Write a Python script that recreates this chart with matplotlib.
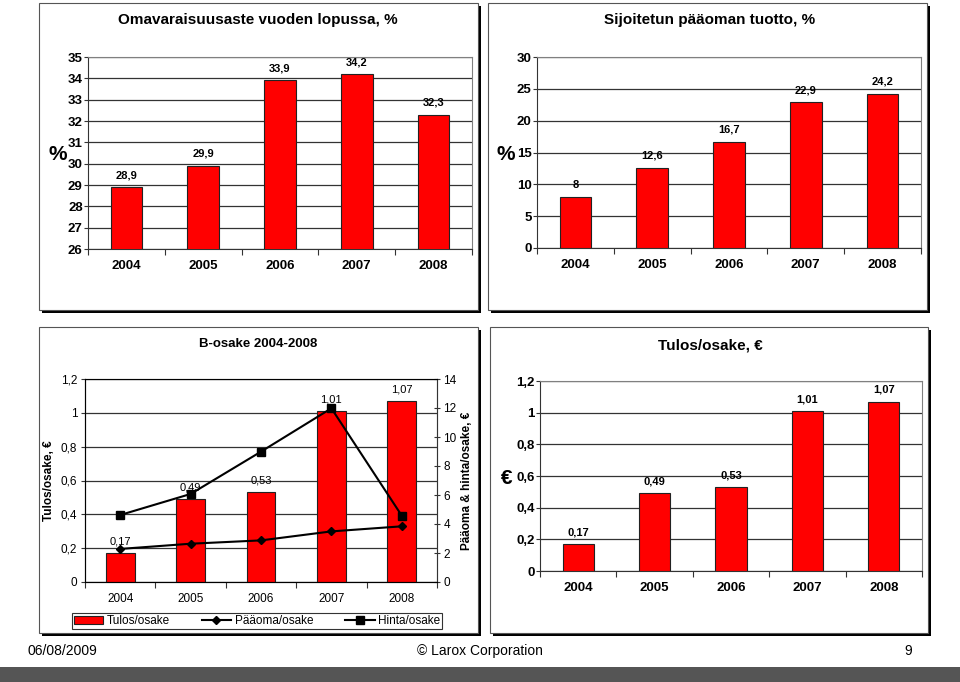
import matplotlib.pyplot as plt
from matplotlib.patches import Rectangle, Patch
from matplotlib.lines import Line2D

plt.rcParams['font.family'] = ['Liberation Sans', 'DejaVu Sans']

years = ['2004', '2005', '2006', '2007', '2008']
omavaraisuus = [28.9, 29.9, 33.9, 34.2, 32.3]
sijoitettu = [8, 12.6, 16.7, 22.9, 24.2]
tulos = [0.17, 0.49, 0.53, 1.01, 1.07]
paaoma = [2.28, 2.64, 2.87, 3.49, 3.84]
hinta = [4.62, 6.07, 8.99, 11.98, 4.57]

W, H = 960, 682
fig = plt.figure(figsize=(W / 100, H / 100), dpi=100)


def rect(l, t, r, b):
    return [l / W, 1 - b / H, (r - l) / W, (b - t) / H]


def frame(l, t, r, b):
    # black drop shadow then white box
    fig.patches.append(Rectangle((l / W + 3 / W, 1 - b / H - 3 / H), (r - l) / W, (b - t) / H,
                                 transform=fig.transFigure, facecolor='black', edgecolor='none', zorder=0))
    fig.patches.append(Rectangle((l / W, 1 - b / H), (r - l) / W, (b - t) / H,
                                 transform=fig.transFigure, facecolor='white', edgecolor='#555555',
                                 lw=0.8, zorder=0.5))


def fmt(v):
    return ('%g' % v).replace('.', ',')


def bar_axes(pos, values, ylim, yticks, bold=True, labelsize=9.5):
    ax = fig.add_axes(pos)
    ax.set_zorder(2)
    ax.patch.set_alpha(0)
    x = range(len(years))
    ax.bar(x, values, width=0.41, color='#ff0000', edgecolor='#222222', lw=0.8, zorder=3)
    ax.set_xlim(-0.5, 4.5)
    ax.set_ylim(*ylim)
    ax.set_yticks(yticks)
    ax.set_yticklabels([fmt(t) for t in yticks], fontsize=labelsize,
                       fontweight='bold' if bold else 'normal')
    ax.set_xticks([i - 0.5 for i in range(6)])
    ax.set_xticklabels([])
    ax.set_xticks(list(x), minor=True)
    ax.set_xticklabels(years, minor=True, fontsize=labelsize,
                       fontweight='bold' if bold else 'normal')
    ax.tick_params(axis='x', which='major', length=4, direction='out', color='#333333')
    ax.tick_params(axis='x', which='minor', length=0, pad=8)
    ax.tick_params(axis='y', length=3, direction='out', color='#333333', pad=0.8)
    ax.yaxis.grid(True, color='#333333', lw=0.9, zorder=0)
    ax.set_axisbelow(True)
    for s in ['top', 'right']:
        ax.spines[s].set_color('#808080')
    for s in ['left', 'bottom']:
        ax.spines[s].set_color('#333333')
    for i, v in enumerate(values):
        ax.annotate(fmt(v), (i, v), xytext=(0, 5), textcoords='offset points',
                    ha='center', va='bottom', fontsize=8,
                    fontweight='bold' if bold else 'normal')
    return ax


# top-left
frame(39, 3, 478, 310)
ax1 = bar_axes(rect(88, 57, 472, 249), omavaraisuus, (26, 35), list(range(26, 36)))
fig.text(258 / W, 1 - 20 / H, 'Omavaraisuusaste vuoden lopussa, %', ha='center', va='center',
         fontsize=11, fontweight='bold')
fig.text(58 / W, 1 - 155 / H, '%', ha='center', va='center', fontsize=15, fontweight='bold')

# top-right
frame(488, 3, 927, 310)
ax2 = bar_axes(rect(537, 57, 921, 248), sijoitettu, (0, 30), list(range(0, 31, 5)))
fig.text(710 / W, 1 - 20 / H, 'Sijoitetun pääoman tuotto, %', ha='center', va='center',
         fontsize=11, fontweight='bold')
fig.text(506 / W, 1 - 155 / H, '%', ha='center', va='center', fontsize=15, fontweight='bold')

# bottom-left
frame(39, 327, 478, 633)
ax3 = bar_axes(rect(85, 379, 437, 582), tulos, (0, 1.2), [0, 0.2, 0.4, 0.6, 0.8, 1, 1.2],
               bold=False, labelsize=8.5)
ax3.tick_params(axis='y', pad=2.5)
ax3.set_ylabel('Tulos/osake, €', fontsize=8.5, fontweight='bold', labelpad=4)
ax3b = ax3.twinx()
ax3b.set_zorder(3)
ax3b.plot(range(5), paaoma, color='black', marker='D', markersize=4, lw=1.5, zorder=4)
ax3b.plot(range(5), hinta, color='black', marker='s', markersize=6, lw=1.5, zorder=4)
ax3b.set_ylim(0, 14)
ax3b.set_yticks(range(0, 15, 2))
ax3b.tick_params(axis='y', length=4, direction='inout', labelsize=8.5, pad=2.5, color='#333333')
ax3b.set_ylabel('Pääoma & hinta/osake, €', fontsize=8.5, fontweight='bold', labelpad=3)
ax3b.spines['right'].set_color('#333333')
fig.text(258 / W, 1 - 344 / H, 'B-osake 2004-2008', ha='center', va='center',
         fontsize=9.5, fontweight='bold')
handles = [Patch(facecolor='#ff0000', edgecolor='#222222', lw=0.8),
           Line2D([], [], color='black', marker='D', markersize=4, lw=1.5),
           Line2D([], [], color='black', marker='s', markersize=6, lw=1.5)]
leg = fig.legend(handles, ['Tulos/osake', 'Pääoma/osake', 'Hinta/osake'], ncol=3,
                 loc='center', bbox_to_anchor=(72 / W, 1 - 630 / H, 370 / W, 18 / H),
                 mode='expand', fancybox=False, edgecolor='#333333', fontsize=8.5,
                 handlelength=2.5, borderpad=0.15, borderaxespad=0, handletextpad=0.3,
                 framealpha=1)
leg.get_frame().set_linewidth(0.8)

# bottom-right
frame(490, 327, 928, 633)
ax4 = bar_axes(rect(540, 381, 922, 571), tulos, (0, 1.2), [0, 0.2, 0.4, 0.6, 0.8, 1, 1.2])
fig.text(710 / W, 1 - 345 / H, 'Tulos/osake, €', ha='center', va='center',
         fontsize=11, fontweight='bold')
fig.text(507 / W, 1 - 478 / H, '€', ha='center', va='center', fontsize=15, fontweight='bold')

# footer
fig.text(28 / W, 1 - 651 / H, '06/08/2009', ha='left', va='center', fontsize=10)
fig.text(480 / W, 1 - 651 / H, '© Larox Corporation', ha='center', va='center', fontsize=10)
fig.text(908 / W, 1 - 651 / H, '9', ha='center', va='center', fontsize=10)
fig.patches.append(Rectangle((0, 0), 1, 15 / H, transform=fig.transFigure,
                             facecolor='#555555', edgecolor='none'))

fig.savefig('out.png', dpi=100)
